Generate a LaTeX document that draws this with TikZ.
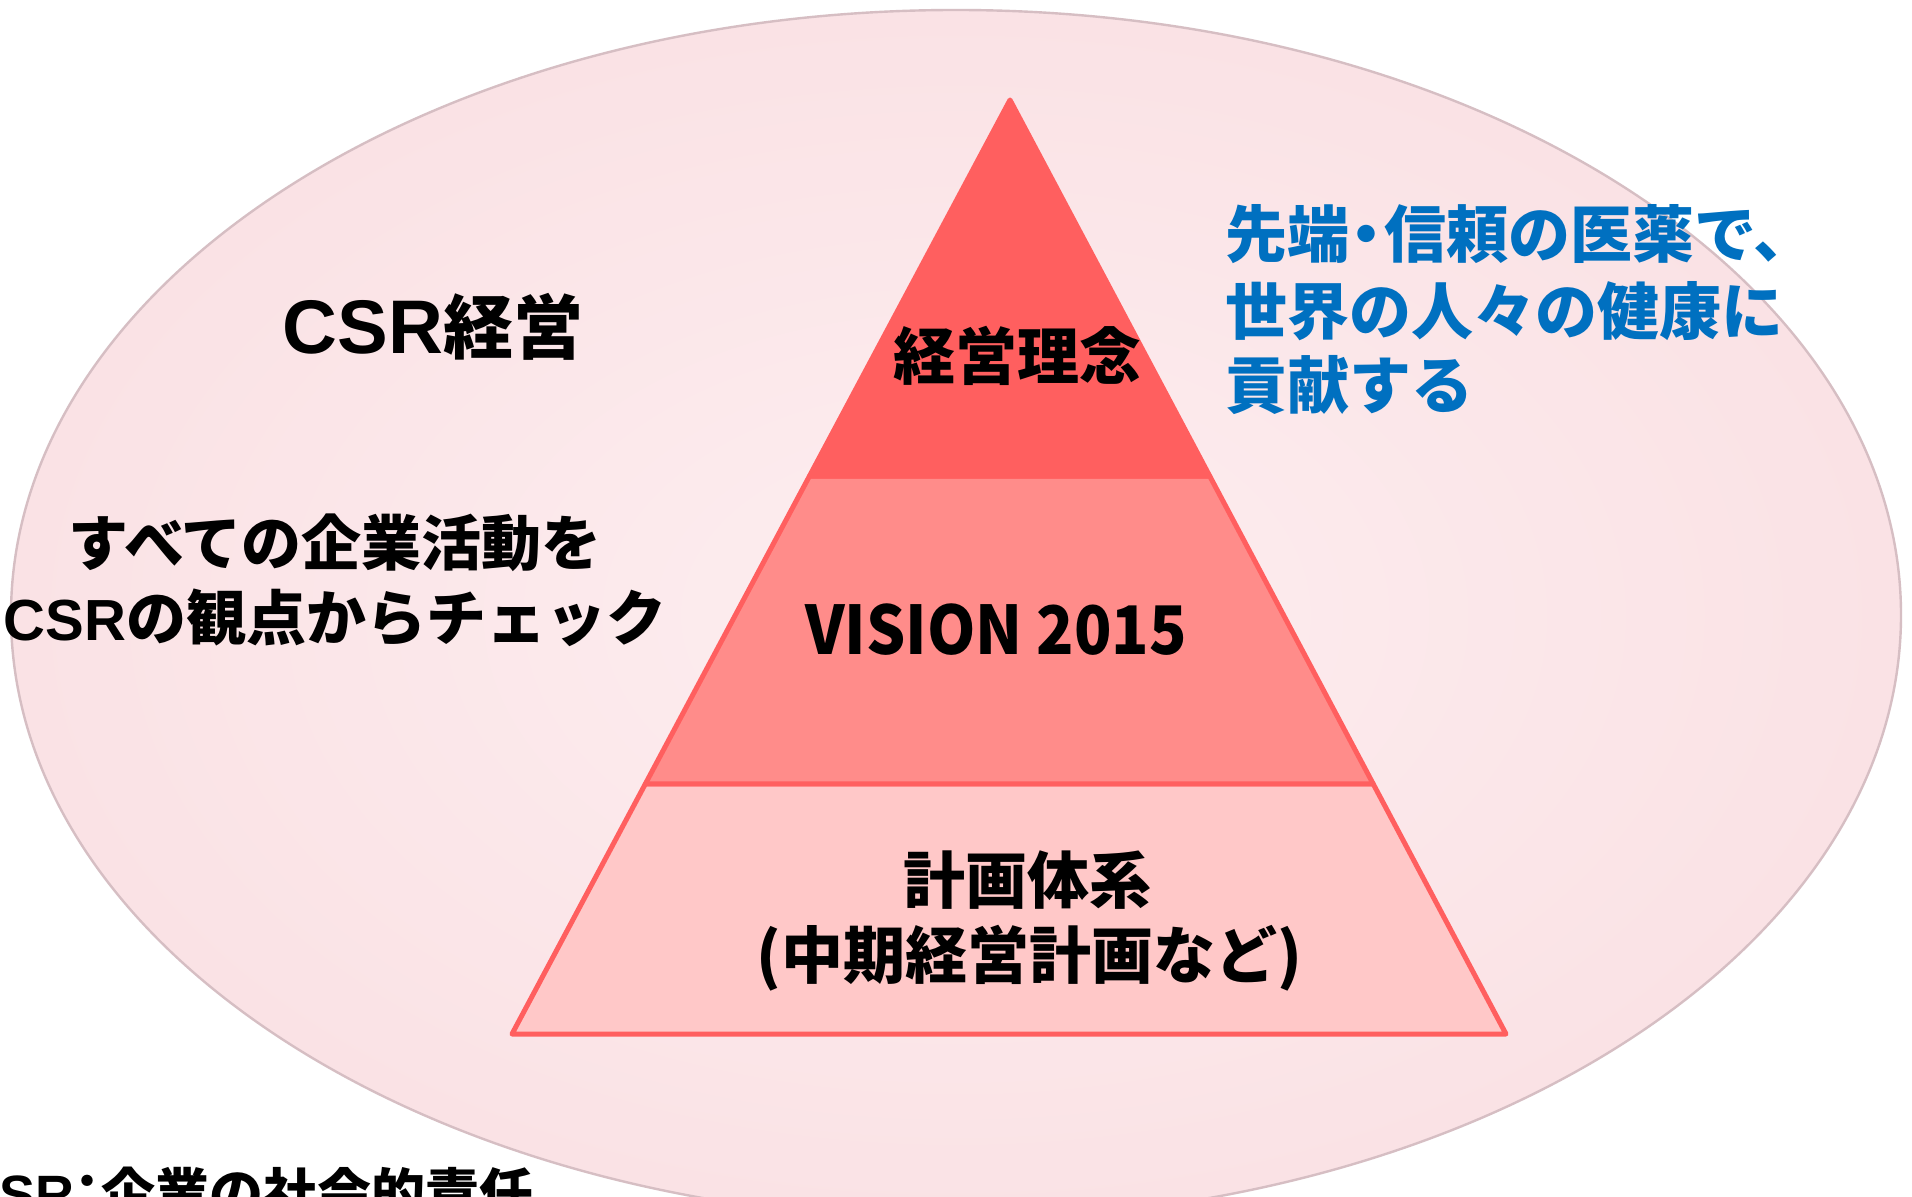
\documentclass[tikz,border=0pt]{standalone}
\usepackage{fontspec}
\newfontfamily\jp{Noto Sans CJK JP}
\newfontfamily\lat{Liberation Sans}
\usetikzlibrary{calc}
\definecolor{ellin}{RGB}{253,238,240}
\definecolor{ellout}{RGB}{250,226,229}
\definecolor{elledge}{RGB}{214,190,195}
\definecolor{pyrtop}{RGB}{255,95,95}
\definecolor{pyrmid}{RGB}{255,140,138}
\definecolor{pyrbot}{RGB}{255,200,200}
\definecolor{bluetxt}{RGB}{0,112,192}
\begin{document}
\begin{tikzpicture}[x=0.5pt,y=-0.5pt,
  jp/.style={inner sep=0pt, font=\jp\bfseries},
  layer/.style={draw=pyrtop, line width=2.5pt, line join=round},
  bluetext/.style={jp, text=bluetxt, anchor=base west}]
\useasboundingbox (0,0) rectangle (1912,1197);
\clip (0,0) rectangle (1912,1197);
\fill[white] (0,0) rectangle (1912,1197);
% background ellipse
\shade[shading=radial, inner color=ellin, outer color=ellout]
  (956,615) ellipse [x radius=472.5pt, y radius=302.5pt];
\draw[elledge, line width=1.2pt]
  (956,615) ellipse [x radius=472.5pt, y radius=302.5pt];
% pyramid
\coordinate (apex) at (1010,100);
\coordinate (bl) at (512,1034);
\coordinate (br) at (1506,1034);
\coordinate (l1) at ($(apex)!0.4026!(bl)$);
\coordinate (r1) at ($(apex)!0.4026!(br)$);
\coordinate (l2) at ($(apex)!0.7323!(bl)$);
\coordinate (r2) at ($(apex)!0.7323!(br)$);
\path[layer, fill=pyrbot] (l2) -- (r2) -- (br) -- (bl) -- cycle;
\path[layer, fill=pyrmid] (l1) -- (r1) -- (r2) -- (l2) -- cycle;
\path[layer, fill=pyrtop] (apex) -- (r1) -- (l1) -- cycle;
% texts
\node[jp, anchor=base] (csr) at (433,354) {{\lat\bfseries\fontsize{38}{44}\selectfont CSR}\fontsize{35}{42}\selectfont 経営};
\node[jp, anchor=base] (all1) at (335,566) {\fontsize{30}{36}\selectfont すべての企業活動を};
\node[jp, anchor=base] (all2) at (335,641) {{\lat\bfseries\fontsize{29}{36}\selectfont CSR}\fontsize{30}{36}\selectfont の観点からチェック};
\node[jp, anchor=base] (rinen) at (1017,380) {\fontsize{31}{37}\selectfont 経営理念};
\node[jp, anchor=base, xscale=0.92] (vision) at (996,655) {\fontsize{33.5}{40}\selectfont VISION 2015};
\node[jp, anchor=base] (keikaku1) at (1027,903) {\fontsize{31}{37}\selectfont 計画体系};
\node[jp, anchor=base] (keikaku2) at (1029,978) {\fontsize{31}{37}\selectfont (中期経営計画など)};
\node[bluetext] (blue1) at (1225,258) {\fontsize{31}{37}\selectfont 先端\kern-0.22em・\kern-0.22em 信頼の医薬で、};
\node[bluetext] (blue2) at (1225,335) {\fontsize{31}{37}\selectfont 世界の人々の健康に};
\node[bluetext] (blue3) at (1225,409) {\fontsize{31}{37}\selectfont 貢献する};
\node[jp, anchor=base west] (note) at (-40,1213) {{\lat\bfseries\fontsize{27}{32}\selectfont CSR}\fontsize{27}{32}\selectfont \kern-0.25em：\kern-0.25em 企業の社会的責任};
\end{tikzpicture}
\end{document}
